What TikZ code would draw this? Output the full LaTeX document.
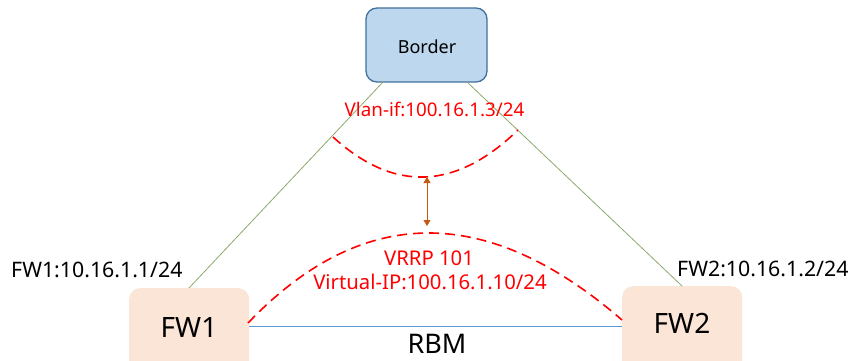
\documentclass[tikz,border=0pt]{standalone}
\usepackage{fontspec}
\setmainfont{Noto Sans}
\usetikzlibrary{arrows.meta}
\definecolor{borderfill}{HTML}{BDD7EE}
\definecolor{borderline}{HTML}{41719C}
\definecolor{fwfill}{HTML}{FBE5D6}
\definecolor{linkgreen}{HTML}{8CAA6E}
\definecolor{rbmblue}{HTML}{5B9BD5}
\definecolor{arrowbrown}{HTML}{C55A11}
\definecolor{vrrpred}{HTML}{FF0000}
\tikzset{
  router/.style={draw=borderline, fill=borderfill, line width=1.3pt, rounded corners=11pt,
                 minimum width=121pt, minimum height=74pt, inner sep=0pt},
  firewall/.style={fill=fwfill, rounded corners=11pt, minimum width=120pt,
                   minimum height=86pt, inner sep=0pt},
  uplink/.style={draw=linkgreen, line width=0.8pt},
  hasync/.style={draw=rbmblue, line width=0.8pt},
  vrrparc/.style={draw=vrrpred, line width=1.6pt, dash pattern=on 10pt off 6pt},
  bigtext/.style={font=\fontsize{28}{32}\selectfont, inner sep=0pt, anchor=base},
  redlabel/.style={text=vrrpred, inner sep=0pt, anchor=base},
  addrlabel/.style={font=\fontsize{21.3}{24}\selectfont, inner sep=0pt, anchor=base west},
}
\begin{document}
\begin{tikzpicture}[x=1pt, y=-1pt]
  \clip (0,0) rectangle (856,361);
  \fill[white] (0,0) rectangle (856,361);

  % devices
  \node[router] (border) at (426.5,45) {};
  \node[inner sep=0pt, anchor=base, font=\fontsize{18}{20}\selectfont] (bordertxt) at (427,53) {Border};
  \node[firewall, anchor=north west] (fw1) at (129,288) {};
  \node[firewall, anchor=north west] (fw2) at (622,286) {};
  \node[bigtext] (fw1txt) at (189,337) {FW1};
  \node[bigtext] (fw2txt) at (682,333) {FW2};

  % uplinks to the border router
  \coordinate (bl) at (383,82);
  \coordinate (br) at (467,82);
  \coordinate (f1t) at (189,288);
  \coordinate (f2t) at (682,286);
  \draw[uplink] (bl) -- (f1t);
  \draw[uplink] (br) -- (f2t);

  % RBM heartbeat link
  \coordinate (f1r) at (249,326);
  \coordinate (f2l) at (622,326);
  \draw[hasync] (f1r) -- (f2l);
  \node[bigtext, font=\fontsize{27}{30}\selectfont] (rbm) at (437,353) {RBM};

  % interface labels
  \node[addrlabel] (fw1addr) at (11,277) {FW1:10.16.1.1/24};
  \node[addrlabel] (fw2addr) at (677,276) {FW2:10.16.1.2/24};

  % VLAN interface arc
  \coordinate (va) at (333,137);
  \coordinate (vb) at (518,130);
  \coordinate (vlow) at (427,177);
  \draw[vrrparc] (va) .. controls (394,192.7) and (455.7,190.3) .. (vb);
  \node[redlabel, font=\fontsize{18.8}{22}\selectfont] (vlan) at (434.5,116) {Vlan-if:100.16.1.3/24};

  % VRRP arc
  \coordinate (ra) at (248,323);
  \coordinate (rb) at (622,320);
  \coordinate (rtop) at (427,226);
  \draw[vrrparc] (ra) .. controls (362,204) and (486.7,203) .. (rb);
  \node[redlabel, font=\fontsize{20.3}{24}\selectfont] (vrrp) at (429,265) {VRRP 101};
  \node[redlabel, font=\fontsize{20.3}{24}\selectfont] (vip) at (430,289) {Virtual-IP:100.16.1.10/24};

  % binding between the two
  \draw[draw=arrowbrown, line width=0.8pt, {Triangle[length=6pt,width=7pt]}-{Triangle[length=6pt,width=7pt]}]
    (vlow) -- (rtop);
\end{tikzpicture}
\end{document}
